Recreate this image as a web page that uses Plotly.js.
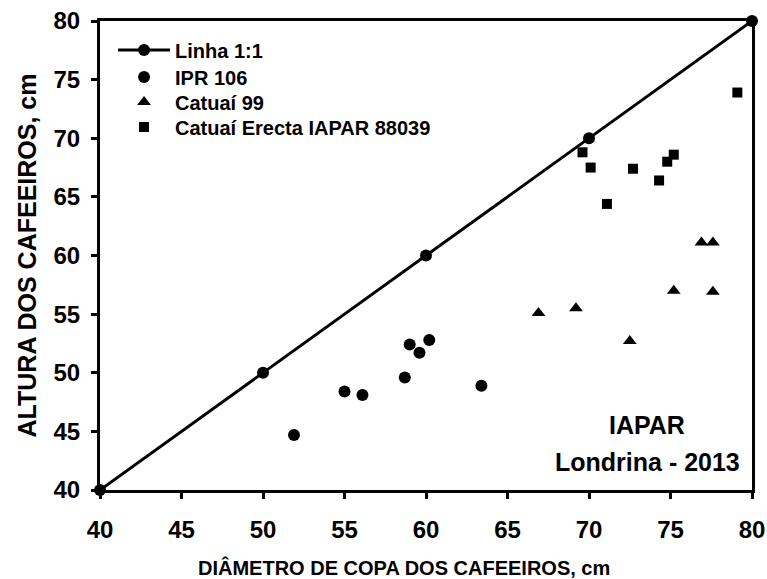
<!DOCTYPE html>
<html><head><meta charset="utf-8">
<script src="https://cdn.plot.ly/plotly-3.0.1.min.js"></script>
<style>html,body{margin:0;padding:0;background:#fff}#chart{width:767px;height:579px}</style>
</head><body><div id="chart"></div>
<script>
const lineX = [40, 50, 60, 70, 80];
const lineY = [40, 50, 60, 70, 80];
const iprX = [51.9, 55.0, 56.1, 58.7, 59.0, 59.6, 60.2, 63.4];
const iprY = [44.7, 48.4, 48.1, 49.6, 52.4, 51.7, 52.8, 48.9];
const cat99X = [66.9, 69.2, 72.5, 75.2, 77.6, 76.9, 77.6];
const cat99Y = [55.1, 55.5, 52.7, 57.0, 56.9, 61.1, 61.1];
const erectaX = [69.6, 70.1, 71.1, 72.7, 74.3, 74.8, 75.2, 79.1];
const erectaY = [68.8, 67.5, 64.4, 67.4, 66.4, 68.0, 68.6, 73.9];
const tickVals = [40, 45, 50, 55, 60, 65, 70, 75, 80];
const xTitle = 'DIÂMETRO DE COPA DOS CAFEEIROS, cm';
const yTitle = 'ALTURA DOS CAFEEIROS, cm';

const F = 'Liberation Sans, Arial, sans-serif';
const traces = [
  {x: lineX, y: lineY, name: 'Linha 1:1', mode: 'lines+markers', type: 'scatter', legend: 'legend',
   line: {color: '#000', width: 3}, marker: {symbol: 'circle', size: 12, color: '#000'}, cliponaxis: false},
  {x: iprX, y: iprY, name: 'IPR 106', mode: 'markers', type: 'scatter', legend: 'legend2',
   marker: {symbol: 'circle', size: 12, color: '#000'}},
  {x: cat99X, y: cat99Y, name: 'Catuaí 99', mode: 'markers', type: 'scatter', legend: 'legend3',
   marker: {symbol: 'triangle-up', size: 12, color: '#000'}},
  {x: erectaX, y: erectaY, name: 'Catuaí Erecta IAPAR 88039', mode: 'markers', type: 'scatter', legend: 'legend4',
   marker: {symbol: 'square', size: 10, color: '#000'}}
];
const axisCommon = {
  range: [40, 80], tickvals: tickVals, ticks: 'outside', ticklen: 6, tickwidth: 3, tickcolor: '#000',
  showline: true, linewidth: 3, linecolor: '#000', mirror: true, showgrid: false, zeroline: false,
  tickfont: {family: F, size: 24, color: '#000', weight: 'bold'}
};
function leg(yc) {
  return {x: 0.02, y: yc, xanchor: 'left', yanchor: 'middle', bgcolor: 'rgba(0,0,0,0)', itemwidth: 52,
    font: {family: F, size: 20, color: '#000', weight: 'bold'}};
}
const layout = {
  width: 767, height: 579,
  margin: {l: 100, r: 15, t: 21, b: 89},
  paper_bgcolor: '#fff', plot_bgcolor: '#fff',
  font: {family: F, color: '#000'},
  xaxis: Object.assign({}, axisCommon, {ticklabelstandoff: 10}),
  yaxis: Object.assign({}, axisCommon, {
    ticklabelstandoff: 6,
    title: {text: yTitle, font: {family: F, size: 25, color: '#000', weight: 'bold'}, standoff: 10}
  }),
  showlegend: true,
  legend: leg(0.938),
  legend2: leg(0.8806),
  legend3: leg(0.8273),
  legend4: leg(0.774),
  annotations: [
    {text: '<b>' + xTitle + '</b>', x: 0.466, y: -0.166, xref: 'paper', yref: 'paper', showarrow: false,
     xanchor: 'center', yanchor: 'middle', font: {family: F, size: 20, color: '#000'}},
    {text: '<b>IAPAR</b>', x: 0.839, y: 0.1386, xref: 'paper', yref: 'paper', showarrow: false,
     xanchor: 'center', yanchor: 'middle', font: {family: F, size: 25, color: '#000'}},
    {text: '<b>Londrina - 2013</b>', x: 0.839, y: 0.0597, xref: 'paper', yref: 'paper', showarrow: false,
     xanchor: 'center', yanchor: 'middle', font: {family: F, size: 25, color: '#000'}}
  ]
};
Plotly.newPlot('chart', traces, layout, {displayModeBar: false});
</script></body></html>
